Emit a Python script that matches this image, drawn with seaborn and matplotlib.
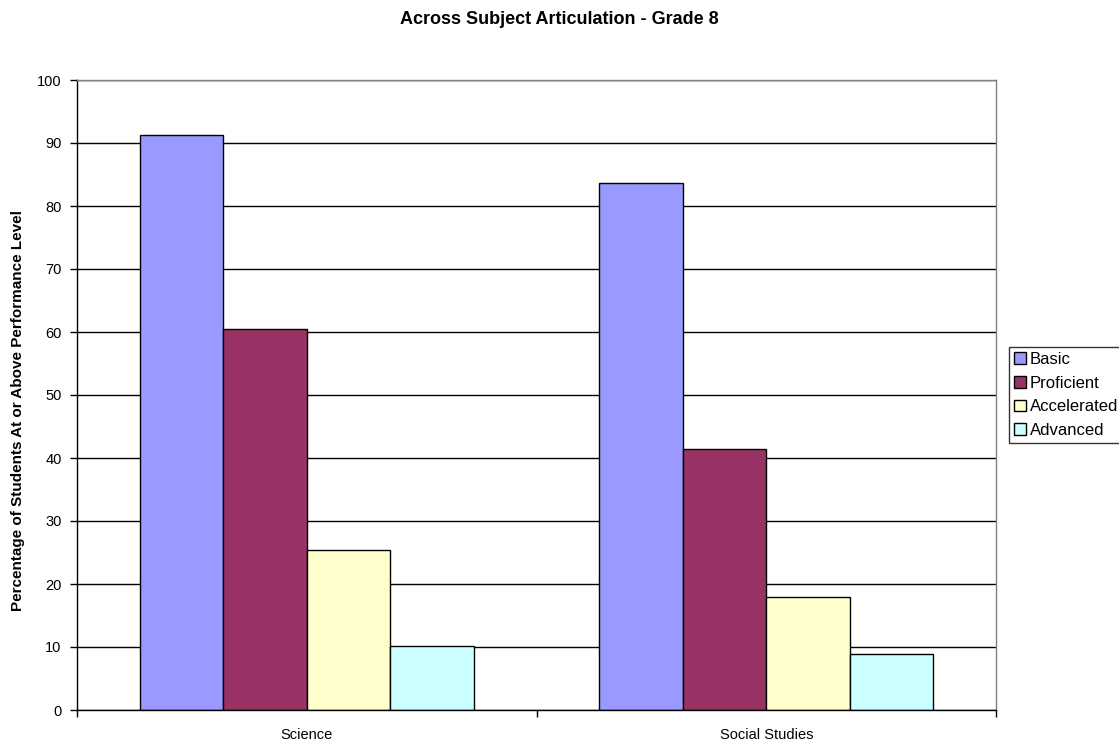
import pandas as pd
import seaborn as sns
import matplotlib.pyplot as plt

subjects = ['Science', 'Social Studies']
levels = ['Basic', 'Proficient', 'Accelerated', 'Advanced']
basic = [91.3, 83.6]
proficient = [60.5, 41.4]
accelerated = [25.4, 17.9]
advanced = [10.2, 8.9]
level_colors = ['#9999FF', '#993366', '#FFFFCC', '#CCFFFF']

df = pd.DataFrame({
    'Subject': subjects * len(levels),
    'Level': [lv for lv in levels for _ in subjects],
    'Percent': basic + proficient + accelerated + advanced,
})

sns.set_style('white')
plt.rcParams['font.family'] = ['Liberation Sans', 'DejaVu Sans']
plt.rcParams['text.color'] = 'black'
plt.rcParams['axes.labelcolor'] = 'black'
plt.rcParams['xtick.color'] = 'black'
plt.rcParams['ytick.color'] = 'black'

fig = plt.figure(figsize=(11.19, 7.44), dpi=100)
ax = fig.add_axes([77 / 1119, 1 - 710 / 744, 919 / 1119, 630 / 744])

sns.barplot(data=df, x='Subject', y='Percent', hue='Level', palette=level_colors,
            width=0.727, saturation=1, edgecolor='black', linewidth=1, ax=ax)

ax.set_xlim(-0.5, 1.5)
ax.set_ylim(0, 100)
ax.set_yticks(range(0, 101, 10))
ax.yaxis.grid(True, color='black', linewidth=1)
ax.set_axisbelow(True)

# category boundary ticks, labels centred under each group
ax.set_xticks([-0.5, 0.5, 1.5], minor=True)
ax.tick_params(axis='x', which='major', length=0, pad=13, labelsize=10.5)
ax.tick_params(axis='x', which='minor', length=5, width=1, color='black', direction='out', bottom=True)
ax.tick_params(axis='y', length=5, width=1, color='black', direction='out', left=True, pad=6, labelsize=10.5)

for side in ['left', 'bottom']:
    ax.spines[side].set_color('black')
    ax.spines[side].set_linewidth(1)
for side in ['top', 'right']:
    ax.spines[side].set_color('#808080')
    ax.spines[side].set_linewidth(1)

ax.set_xlabel('')
ax.set_ylabel('Percentage of Students At or Above Performance Level',
              fontsize=11, fontweight='bold', va='center')
ax.yaxis.set_label_coords(-0.064, 0.475)

fig.suptitle('Across Subject Articulation - Grade 8', x=0.5, y=1 - 20 / 744,
             fontsize=13, fontweight='bold', va='center')

handles, labels = ax.get_legend_handles_labels()
ax.legend(handles, labels, loc='center left', bbox_to_anchor=(1009 / 1119, 1 - 395 / 744),
          bbox_transform=fig.transFigure, frameon=True, fancybox=False, edgecolor='black',
          fontsize=12, handlelength=0.7, handleheight=0.7, handletextpad=0.25,
          borderpad=0.3, labelspacing=0.52, borderaxespad=0)
ax.get_legend().get_frame().set_linewidth(1)

fig.savefig('out.png', dpi=100)
